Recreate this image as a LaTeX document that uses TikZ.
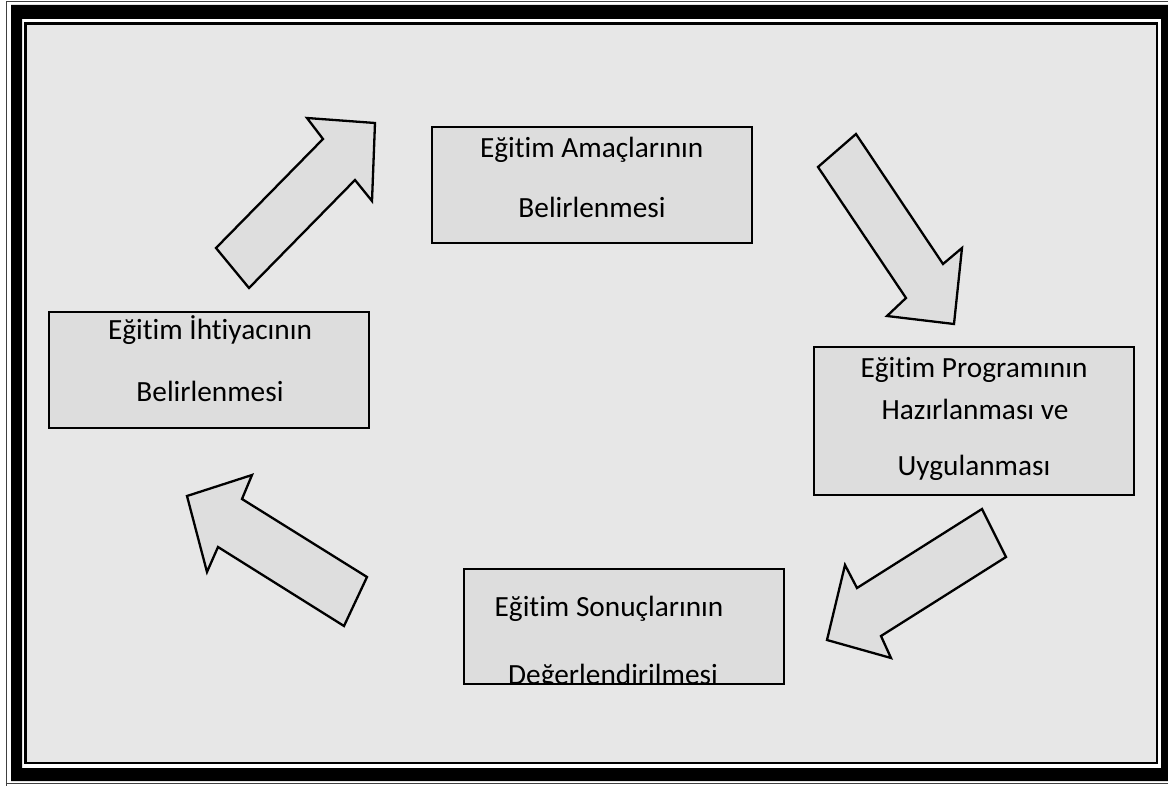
\documentclass[tikz,border=0pt]{standalone}
\usepackage{fontspec}
\setmainfont{Carlito}[Ligatures={NoCommon},RawFeature={-liga;-clig}]
\definecolor{pagebg}{HTML}{E7E7E7}
\definecolor{boxfill}{HTML}{DDDDDD}
\definecolor{arrowfill}{HTML}{DEDEDE}
\begin{document}
\begin{tikzpicture}[x=1pt,y=-1pt,
  stagebox/.style={draw=black,line width=2pt,fill=boxfill,inner sep=0pt,outer sep=0pt},
  label/.style={anchor=base,inner sep=0pt,font=\fontsize{29.3}{34}\selectfont},
  blockarrow/.style={draw=black,line width=2.3pt,fill=arrowfill,line join=miter}]
\useasboundingbox (0,0) rectangle (1168,786);
\fill[white] (0,0) rectangle (1168,786);
% page border
\draw[line width=1pt,black!75] (6.5,800) -- (6.5,1.5) -- (1175,1.5);
\draw[line width=1pt,black!75] (6.5,783.5) -- (1175,783.5);
\fill[black,even odd rule] (11,5) rectangle (1180,781) (22,19) rectangle (1161,768);
\fill[pagebg] (25.5,23.5) rectangle (1157,763);
\draw[line width=2.5pt,black] (25.5,23.5) rectangle (1157,763);
% boxes
\node[stagebox,minimum width=320pt,minimum height=115.4pt] (b1) at (591.7,185) {};
\node[stagebox,minimum width=320pt,minimum height=116pt] (b2) at (209.3,369.7) {};
\node[stagebox,minimum width=320pt,minimum height=147.7pt] (b3) at (974,421.2) {};
\node[stagebox,minimum width=320pt,minimum height=114.7pt] (b4) at (624,626.7) {};
% texts
\node[label] (t1a) at (591.7,157.5) {Eğitim Amaçlarının};
\node[label] (t1b) at (592,217.5) {Belirlenmesi};
\node[label] (t2a) at (210,339.3) {Eğitim İhtiyacının};
\node[label] (t2b) at (210,401.7) {Belirlenmesi};
\node[label] (t3a) at (974,377.3) {Eğitim Programının};
\node[label] (t3b) at (975,420) {Hazırlanması ve};
\node[label] (t3c) at (974,475) {Uygulanması};
\node[label] (t4a) at (609,616.7) {Eğitim Sonuçlarının};
\begin{scope}
\clip (465,570) rectangle (783,684);
\node[label] (t4b) at (613,684) {Değerlendirilmesi};
\end{scope}
\draw[line width=2pt] (b4.south west) -- (b4.south east);
% block arrows
\draw[blockarrow] (216,248) -- (323,139) -- (307,118) -- (375,123) -- (372,201) -- (355,180) -- (249,288) -- cycle;
\draw[blockarrow] (856,134) -- (818,167) -- (906,298) -- (887,316) -- (954,324) -- (962,248) -- (943,264) -- cycle;
\draw[blockarrow] (982,509) -- (857,588) -- (845,565) -- (827,640) -- (891,658) -- (881,636) -- (1006,557) -- cycle;
\draw[blockarrow] (252,475) -- (187,496) -- (207,572) -- (218,547) -- (344,626) -- (367,577) -- (242,499) -- cycle;
\end{tikzpicture}
\end{document}
